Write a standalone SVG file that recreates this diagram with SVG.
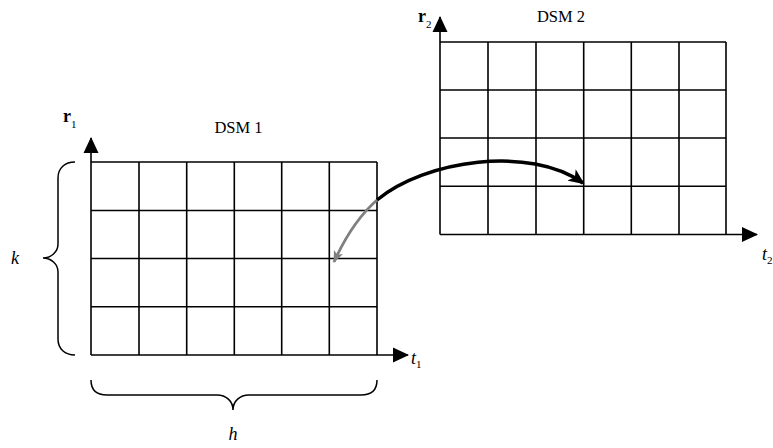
<svg xmlns="http://www.w3.org/2000/svg" width="773" height="448" viewBox="0 0 773 448">
<style>
.grid{fill:none;stroke:#000;stroke-width:1.6}
.axis{fill:none;stroke:#000;stroke-width:1.6}
.brace{fill:none;stroke:#000;stroke-width:1.5}
.lbl{font-family:"Liberation Serif","Times New Roman",serif;fill:#000}
.it{font-style:italic}
.bd{font-weight:bold}
</style>
<defs>
<marker id="axhead" markerUnits="userSpaceOnUse" viewBox="0 0 16 16" refX="15" refY="8" markerWidth="16" markerHeight="16" orient="auto">
<path d="M0,0.5 L16,8 L0,15.5 Z" fill="#000"/>
</marker>
<marker id="blackhead" markerUnits="userSpaceOnUse" viewBox="0 0 16 14" refX="14" refY="7" markerWidth="16" markerHeight="14" orient="auto">
<path d="M0,0 L16,7 L0,14 L4,7 Z" fill="#000"/>
</marker>
<marker id="grayhead" markerUnits="userSpaceOnUse" viewBox="0 0 12 10" refX="11" refY="5" markerWidth="12" markerHeight="10" orient="auto">
<path d="M0,0 L12,5 L0,10 L3,5 Z" fill="#808080"/>
</marker>
</defs>

<g id="dsm1">
<path class="grid" d="M91,162 H377 M91,210.5 H377 M91,258.5 H377 M91,306.8 H377 M139,162 V355 M186.7,162 V355 M234.3,162 V355 M281.7,162 V355 M329.3,162 V355 M377,162 V355"/>
<line class="axis" x1="91" y1="355" x2="91" y2="138" marker-end="url(#axhead)"/>
<line class="axis" x1="91" y1="355" x2="408" y2="355" marker-end="url(#axhead)"/>
<text class="lbl" x="238.5" y="133" font-size="16.5" text-anchor="middle">DSM 1</text>
<text class="lbl" x="63" y="122"><tspan class="bd" font-size="18">r</tspan><tspan font-size="11" dy="6">1</tspan></text>
<text class="lbl" x="411" y="364"><tspan class="it" font-size="18">t</tspan><tspan font-size="11" dy="4">1</tspan></text>
<path class="brace" d="M75,162 C65,162 58,168 58,178 L58,244 C58,252 51,258 43,258 C51,258 58,264 58,272 L58,339 C58,349 65,355 75,355"/>
<text class="lbl it" x="11" y="264" font-size="18">k</text>
<path class="brace" d="M91,380 C91,390 97,395 107,395 L217,395 C226,395 233,401 233,410 C233,401 240,395 249,395 L361,395 C371,395 377,390 377,380"/>
<text class="lbl it" x="233" y="440" font-size="18" text-anchor="middle">h</text>
</g>

<g id="dsm2">
<path class="grid" d="M440,42 H726 M440,90 H726 M440,138 H726 M440,186.3 H726 M488,42 V234.5 M536,42 V234.5 M583.7,42 V234.5 M631.3,42 V234.5 M679,42 V234.5 M726,42 V234.5"/>
<line class="axis" x1="440" y1="234.5" x2="440" y2="17" marker-end="url(#axhead)"/>
<line class="axis" x1="440" y1="234.5" x2="757" y2="234.5" marker-end="url(#axhead)"/>
<text class="lbl" x="561" y="22" font-size="16.5" text-anchor="middle">DSM 2</text>
<text class="lbl" x="418" y="22"><tspan class="bd" font-size="18">r</tspan><tspan font-size="11" dy="6">2</tspan></text>
<text class="lbl" x="762" y="260"><tspan class="it" font-size="18">t</tspan><tspan font-size="11" dy="4">2</tspan></text>
</g>

<g id="connectors">
<path d="M377,200 C425,160 530,145 583,183" fill="none" stroke="#000" stroke-width="3.5" marker-end="url(#blackhead)"/>
<path d="M377,200 Q352,222 334,262" fill="none" stroke="#808080" stroke-width="2.8" marker-end="url(#grayhead)"/>
</g>
</svg>
